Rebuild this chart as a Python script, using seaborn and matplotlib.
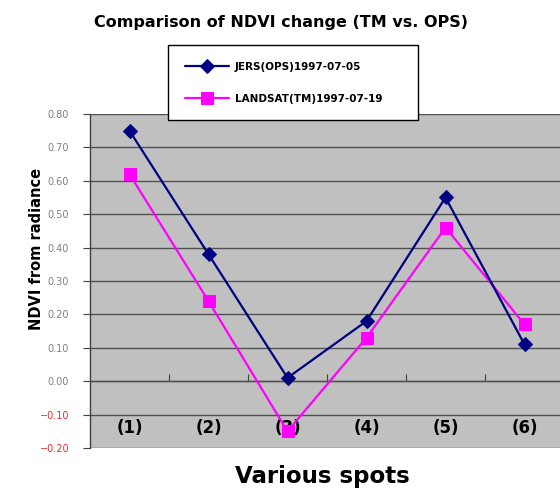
import matplotlib
matplotlib.use("Agg")
import matplotlib.pyplot as plt
import seaborn as sns
import pandas as pd
import numpy as np

spots = ["(1)", "(2)", "(3)", "(4)", "(5)", "(6)"]
jers = [0.75, 0.38, 0.01, 0.18, 0.55, 0.11]
landsat = [0.62, 0.24, -0.15, 0.13, 0.46, 0.17]
series_names = ["JERS(OPS)1997-07-05", "LANDSAT(TM)1997-07-19"]
yticks = [0.80, 0.70, 0.60, 0.50, 0.40, 0.30, 0.20, 0.10, 0.00, -0.10, -0.20]

sns.set_theme(style="white")
plt.rcParams['font.family'] = ['DejaVu Sans']
plt.rcParams['text.color'] = 'black'

fig = plt.figure(figsize=(5.6, 4.94), dpi=100)
W, H = 560, 494
ax = fig.add_axes([90 / W, (H - 448) / H, 474 / W, 334 / H])
ax.set_facecolor("#c0c0c0")

pos = np.arange(1, len(spots) + 1)
df = pd.DataFrame({"pos": pos, "jers": jers, "landsat": landsat})

sns.lineplot(data=df, x="pos", y="jers", ax=ax, color="#000080", marker="D",
             markersize=7, markeredgecolor="#000080", linewidth=1.6,
             label=series_names[0], zorder=4)
sns.lineplot(data=df, x="pos", y="landsat", ax=ax, color="#ff00ff", marker="s",
             markersize=9, markeredgecolor="#ff00ff", linewidth=1.6,
             label=series_names[1], zorder=3)

ax.set_xlim(0.5, len(spots) + 0.5)
ax.set_ylim(-0.20, 0.80)

# y axis
ax.set_yticks(yticks)
ax.set_yticklabels([f"{v:.2f}" if v >= 0 else f"{v:.2f}".replace("-", "\u2212") for v in yticks])
for lbl, v in zip(ax.get_yticklabels(), yticks):
    lbl.set_color("#e03030" if v < 0 else "#808080")
    lbl.set_fontsize(7)
ax.tick_params(axis="y", direction="out", length=5, width=0.8, color="#404040", pad=10, left=True)
ax.grid(axis="y", color="#505050", linewidth=1.0)
ax.set_axisbelow(True)

# x axis: spine at zero, labels inside near bottom
ax.spines["bottom"].set_position(("data", 0))
ax.spines["bottom"].set_color("#505050")
ax.spines["bottom"].set_linewidth(1.0)
ax.set_xticks(pos)
ax.set_xticklabels(spots, fontsize=12, fontweight="bold", color="black")
ax.tick_params(axis="x", length=0, pad=27)
ax.set_xticks(np.arange(1.5, len(spots), 1.0), minor=True)
ax.tick_params(axis="x", which="minor", direction="in", length=5, width=0.8, color="#404040", bottom=True)

ax.spines["left"].set_color("#404040")
ax.spines["left"].set_linewidth(1.0)
ax.spines["top"].set_visible(False)
ax.spines["right"].set_visible(False)

ax.set_xlabel("")
ax.set_ylabel("")

fig.text(281 / W, 1 - 22 / H, "Comparison of NDVI change (TM vs. OPS)",
         ha="center", va="center", fontsize=11.5, fontweight="bold", color="black")
fig.text(322 / W, 1 - 476 / H, "Various spots", ha="center", va="center",
         fontsize=16.5, fontweight="heavy", color="black")
fig.text(37 / W, 1 - 249 / H, "NDVI from radiance", ha="center", va="center",
         rotation=90, fontsize=10.5, fontweight="bold", color="black")

ax.legend_.remove()
h, l = ax.get_legend_handles_labels()
leg = fig.legend(h, l, loc="upper left",
                 bbox_to_anchor=(168 / W, 1 - 45 / H - 77 / H, 250 / W, 77 / H),
                 mode="expand", fancybox=False, framealpha=1, edgecolor="black",
                 facecolor="white", handlelength=4.3, handletextpad=0.5,
                 labelspacing=2.1, borderpad=1.6, borderaxespad=0,
                 prop={"weight": "bold", "size": 7.5})
leg.get_frame().set_linewidth(1.0)
leg.set_zorder(10)

fig.savefig("out.png", dpi=100)
